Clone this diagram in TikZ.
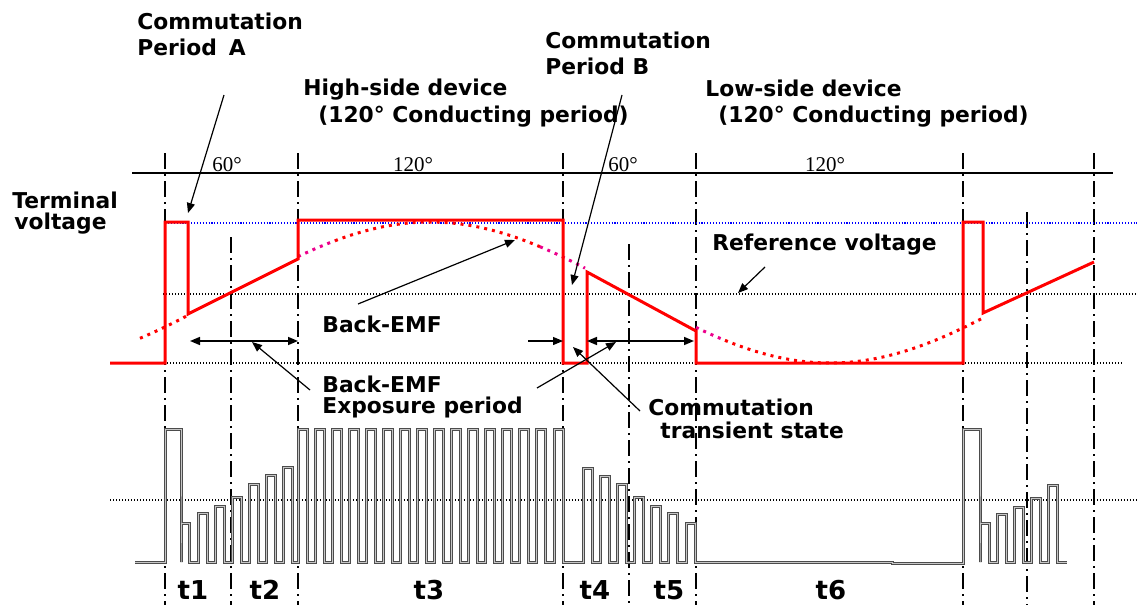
\documentclass[tikz,border=0pt]{standalone}
\usepackage{fontspec}
\setmainfont{DejaVu Sans}
\newfontfamily\degfont{Liberation Serif}
\usetikzlibrary{arrows.meta}

\begin{document}
\begin{tikzpicture}[x=0.5pt,y=-0.5pt,
  lbl/.style={font=\fontsize{10.9}{12}\selectfont\bfseries, anchor=base west, inner sep=0pt},
  deg/.style={font=\degfont\fontsize{10.5}{12}\selectfont, anchor=base, inner sep=0pt},
  tlbl/.style={font=\fontsize{13}{14}\selectfont\bfseries, anchor=base, inner sep=0pt},
  wave/.style={red, line width=1.5pt, line join=miter},
  emf/.style={red, line width=1.5pt, dash pattern=on 1.5pt off 2.5pt},
  emfm/.style={emf, magenta},
  dotline/.style={black, line width=0.6pt, dash pattern=on 0.6pt off 0.9pt},
  refblue/.style={blue, line width=0.55pt, dash pattern=on 0.55pt off 0.9pt},
  phase/.style={black, line width=0.75pt, dash pattern=on 8pt off 2.5pt on 1pt off 2.5pt},
  axisline/.style={black, line width=0.8pt},
  leader/.style={black, line width=0.6pt, -{Triangle[length=5pt,width=4pt]}},
  span/.style={black, line width=0.75pt, {Triangle[length=5pt,width=4pt]}-{Triangle[length=5pt,width=4pt]}},
  pulse/.style={draw=gray!60!black, double=gray!45, line width=0.5pt, double distance=0.5pt, line join=miter}
]
\path[use as bounding box] (0,0) rectangle (1137,605);

% ---------- phase grid ----------
\draw[axisline] (132,173) -- (1113,173);
\foreach \px in {165,298,563,696,963,1094} \draw[phase] (\px,153) -- (\px,605);
\draw[phase] (231,237) -- (231,605);
\draw[phase] (629,244) -- (629,605);
\draw[phase] (1027,212) -- (1027,605);

\node[deg] (a60)  at (227,171) {60°};
\node[deg] (a120) at (413,171) {120°};
\node[deg] (b60)  at (623,171) {60°};
\node[deg] (b120) at (825,171) {120°};

% ---------- level lines ----------
\draw[refblue] (165,223) -- (1137,223);
\draw[dotline] (163,294) -- (1137,294);
\draw[dotline] (167,363) -- (1122,363);
\draw[dotline] (110,500) -- (1137,500);

% ---------- back-EMF (sinusoid) ----------
\def\bemf#1{292.5-70.5*cos(0.45*(#1-430))}
\draw[emf]  plot[domain=140:188, samples=12] (\x,{\bemf{\x}});
\draw[emfm] plot[domain=298:335, samples=10] (\x,{\bemf{\x}});
\draw[emf]  plot[domain=335:540, samples=50] (\x,{\bemf{\x}});
\draw[emfm] plot[domain=540:585, samples=12] (\x,{\bemf{\x}});
\draw[emfm] plot[domain=696:725, samples=8] (\x,{\bemf{\x}});
\draw[emf]  plot[domain=725:983, samples=60] (\x,{\bemf{\x}});

% ---------- terminal voltage ----------
\draw[wave] (110,363) -- (165,363) -- (165,222) -- (188,222) -- (188,314)
  -- (298,259) -- (298,220) -- (563,220) -- (563,363) -- (587,363)
  -- (587,272) -- (696,331) -- (696,363) -- (963,363) -- (963,222)
  -- (983,222) -- (983,313) -- (1094,262);

% ---------- PWM pulses ----------
\draw[pulse] (135,562) -- (165,562) -- (165,429) -- (181,429) -- (181,562)
  -- (181,523) -- (189,523) -- (189,562)
  \foreach \s/\h in {198/513,215/506,232/497,249/484,266/475,283/467}
    { -- (\s,562) -- (\s,\h) -- (\s+9,\h) -- (\s+9,562) }
  \foreach \k in {0,...,15}
    { -- (298+17.07*\k,562) -- (298+17.07*\k,429) -- (307+17.07*\k,429) -- (307+17.07*\k,562) }
  \foreach \s/\h in {583/468,600/476,617/484,634/497,651/506,668/513,686/523}
    { -- (\s,562) -- (\s,\h) -- (\s+9,\h) -- (\s+9,562) }
  -- (892,562) -- (892,563) -- (963,563) -- (963,429) -- (980,429) -- (980,562)
  -- (980,523) -- (989,523) -- (989,562)
  \foreach \s/\h in {997/514,1014/507,1031/498,1048/485}
    { -- (\s,562) -- (\s,\h) -- (\s+9,\h) -- (\s+9,562) }
  -- (1067,562);

% ---------- exposure spans ----------
\coordinate (e1a) at (190,341); \coordinate (e1b) at (298,341);
\coordinate (e2a) at (528,341); \coordinate (e2b) at (563,341);
\coordinate (e3a) at (587,341); \coordinate (e3b) at (694,341);
\draw[span] (e1a) -- (e1b);
\draw[leader] (e2a) -- (e2b);
\draw[span] (e3a) -- (e3b);

% ---------- labels ----------
\node[lbl] (ca1) at (137,29) {Commutation};
\node[lbl] (ca2) at (137,55) {Period\hspace{0.55em}A};
\node[lbl] (cb1) at (545,48) {Commutation};
\node[lbl] (cb2) at (545,75) {Period B};
\node[lbl] (hs1) at (303,96) {High-side device};
\node[lbl] (hs2) at (318,122) {(120° Conducting period)};
\node[lbl] (ls1) at (705,97) {Low-side device};
\node[lbl] (ls2) at (718,122) {(120° Conducting period)};
\node[lbl] (tv1) at (12,208) {Terminal};
\node[lbl] (tv2) at (14,229) {voltage};
\node[lbl] (rv)  at (712,250) {Reference voltage};
\node[lbl] (be)  at (322,332) {Back-EMF};
\node[lbl] (ex1) at (322,392) {Back-EMF};
\node[lbl] (ex2) at (322,413) {Exposure period};
\node[lbl] (ct1) at (648,415) {Commutation};
\node[lbl] (ct2) at (660,438) {transient state};

\node[tlbl] (t1) at (193,599) {t1};
\node[tlbl] (t2) at (265,599) {t2};
\node[tlbl] (t3) at (429,599) {t3};
\node[tlbl] (t4) at (595,599) {t4};
\node[tlbl] (t5) at (669,599) {t5};
\node[tlbl] (t6) at (831,599) {t6};

% ---------- leaders ----------
\coordinate (pa0) at (224,95);  \coordinate (pa1) at (188,213);
\coordinate (pb0) at (622,95);  \coordinate (pb1) at (572,285);
\coordinate (be0) at (358,304); \coordinate (be1) at (515,240);
\coordinate (rv0) at (765,267); \coordinate (rv1) at (738,293);
\coordinate (x10) at (310,390); \coordinate (x11) at (252,342);
\coordinate (x20) at (537,388); \coordinate (x21) at (616,342);
\coordinate (ct0) at (640,411); \coordinate (ct1p) at (573,347);
\draw[leader] (pa0) -- (pa1);
\draw[leader] (pb0) -- (pb1);
\draw[leader] (be0) -- (be1);
\draw[leader] (rv0) -- (rv1);
\draw[leader] (x10) -- (x11);
\draw[leader] (x20) -- (x21);
\draw[leader] (ct0) -- (ct1p);
\end{tikzpicture}
\end{document}
